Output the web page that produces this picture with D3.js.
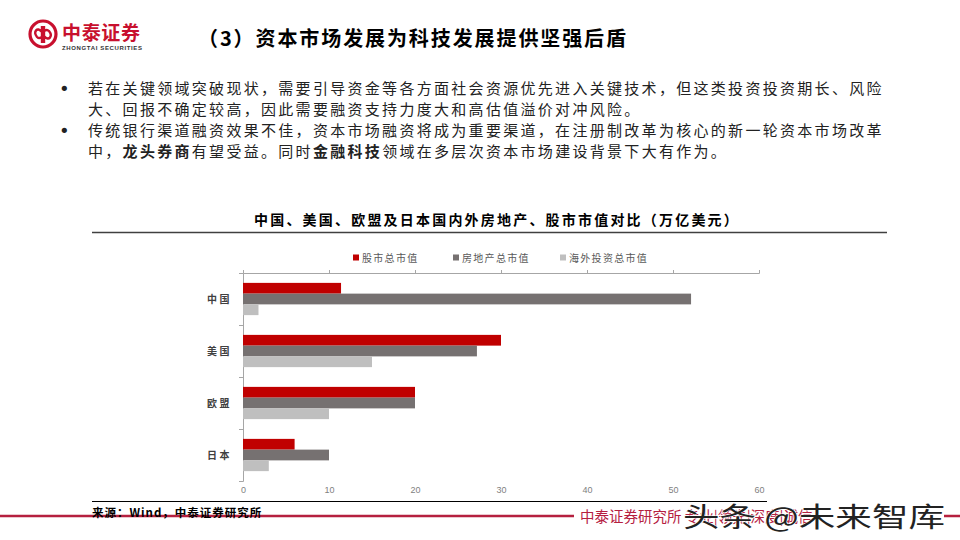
<!DOCTYPE html>
<html>
<head>
<meta charset="utf-8">
<script src="https://cdn.jsdelivr.net/npm/d3@7"></script>
<style>
  body { margin: 0; background: #fff; }
  svg { display: block; font-family: "Noto Sans CJK SC", "Noto Sans", sans-serif; }
</style>
</head>
<body>
<div id="chart"></div>
<script>
// chart data
var categories = ['中国', '美国', '欧盟', '日本'];
var seriesNames = ['股市总市值', '房地产总市值', '海外投资总市值'];
var stockValues = [11.4, 30, 20, 6];
var realEstateValues = [52.1, 27.2, 20, 10];
var overseasValues = [1.8, 15, 10, 3];
var xTicks = [0, 10, 20, 30, 40, 50, 60];
var colors = ['#c00000', '#767171', '#bfbfbf'];

var bullets = [
  [[{t: '若在关键领域突破现状，需要引导资金等各方面社会资源优先进入关键技术，但这类投资投资期长、风险'}],
   [{t: '大、回报不确定较高，因此需要融资支持力度大和高估值溢价对冲风险。'}]],
  [[{t: '传统银行渠道融资效果不佳，资本市场融资将成为重要渠道，在注册制改革为核心的新一轮资本市场改革'}],
   [{t: '中，'}, {t: '龙头券商', b: true}, {t: '有望受益。同时'}, {t: '金融科技', b: true}, {t: '领域在多层次资本市场建设背景下大有作为。'}]]
];

var width = 960;
var height = 540;

var svg = d3.select('#chart')
    .append('svg')
    .attr('width', width)
    .attr('height', height);

// Header / logo
var logo = svg.append('g').attr('transform', 'translate(43,34)');
logo.append('circle').attr('r', 13).attr('fill', 'none')
    .attr('stroke', '#c8102e').attr('stroke-width', 3.2);
logo.append('path')
    .attr('d', 'M-1,-8 L-1,9 M1,-8 L1,9 M-1,-2 C-6,-8 -10,-2 -6,3 C-3,6 0,2 0,0 C0,-2 3,-6 6,-3 C10,2 6,8 1,2')
    .attr('fill', 'none').attr('stroke', '#c8102e').attr('stroke-width', 2.4);
svg.append('text').attr('x', 62).attr('y', 40)
    .attr('font-size', 19).attr('font-weight', 'bold').attr('fill', '#c8102e')
    .attr('textLength', 78).text('中泰证券');
svg.append('text').attr('x', 62).attr('y', 50)
    .attr('font-size', 6).attr('font-family', 'Liberation Sans, Arial')
    .attr('font-weight', 'bold').attr('fill', '#333')
    .attr('textLength', 80).text('ZHONGTAI SECURITIES');

svg.append('text').attr('x', 198).attr('y', 46)
    .attr('font-size', 20).attr('font-weight', 'bold').attr('fill', '#000')
    .attr('textLength', 428).attr('lengthAdjust', 'spacing')
    .text('（3）资本市场发展为科技发展提供坚强后盾');

// Bullet text
var lineY = [94, 115, 136, 157];
var li = 0;
bullets.forEach(function(lines) {
  svg.append('text').attr('x', 59).attr('y', lineY[li] + 1)
      .attr('font-size', 18).attr('fill', '#222')
      .attr('font-family', 'DejaVu Sans').text('•');
  lines.forEach(function(parts) {
    var t = svg.append('text').attr('x', 88).attr('y', lineY[li])
        .attr('font-size', 15).attr('fill', '#222')
        .attr('letter-spacing', 2.3);
    parts.forEach(function(p) {
      t.append('tspan').attr('font-weight', p.b ? 'bold' : 'normal').text(p.t);
    });
    li++;
  });
});

// Chart title
svg.append('text').attr('x', 497).attr('y', 225)
    .attr('text-anchor', 'middle')
    .attr('font-size', 14).attr('font-weight', 'bold').attr('fill', '#000')
    .attr('letter-spacing', 2.2)
    .text('中国、美国、欧盟及日本国内外房地产、股市市值对比（万亿美元）');
svg.append('line').attr('x1', 92).attr('x2', 887).attr('y1', 232.5).attr('y2', 232.5)
    .attr('stroke', '#404040').attr('stroke-width', 1.5);

// Legend
var legendX = [353, 453, 560];
var legend = svg.append('g').selectAll('g')
    .data(seriesNames)
    .enter()
    .append('g')
    .attr('transform', function(d, i) {
      return 'translate(' + legendX[i] + ',258)';
    });
legend.append('rect').attr('x', 0).attr('y', -3.5).attr('width', 6).attr('height', 6)
    .attr('fill', function(d, i) { return colors[i]; });
legend.append('text').attr('x', 9).attr('y', 3.5)
    .attr('font-size', 10).attr('fill', '#595959').attr('letter-spacing', 1.3)
    .text(function(d) { return d; });

// Scales
var scaleX = d3.scaleLinear().domain([0, 60]).range([243, 759]);
var scaleY = d3.scaleBand().domain(categories).range([273, 481])
    .paddingInner(0.38).paddingOuter(0.19);
var scaleSub = d3.scaleBand().domain(d3.range(seriesNames.length))
    .range([0, scaleY.bandwidth()]);
var scaleIdx = d3.scaleLinear().domain([0, categories.length]).range([273, 481]);

// Axes
var axisTop = d3.axisTop(scaleX).tickValues(xTicks).tickSize(3).tickFormat('');
svg.append('g').attr('class', 'x-axis-top')
    .attr('transform', 'translate(0,273)')
    .call(axisTop);

var axisLeft = d3.axisLeft(scaleIdx).ticks(categories.length).tickSize(4).tickFormat('');
svg.append('g').attr('class', 'y-axis')
    .attr('transform', 'translate(243,0)')
    .call(axisLeft);

var axisBottom = d3.axisBottom(scaleX).tickValues(xTicks).tickSize(0).tickPadding(6);
svg.append('g').attr('class', 'x-axis-bottom')
    .attr('transform', 'translate(0,481)')
    .call(axisBottom)
    .call(function(g) { g.select('.domain').remove(); });

svg.selectAll('.x-axis-top path, .x-axis-top line, .y-axis path, .y-axis line')
    .attr('stroke', '#a6a6a6');
svg.selectAll('.x-axis-bottom text')
    .attr('font-size', 9).attr('fill', '#7f7f7f')
    .attr('font-family', 'Liberation Sans, Arial');

// Category labels
svg.append('g').selectAll('text')
    .data(categories)
    .enter()
    .append('text')
    .attr('x', 232)
    .attr('y', function(d) { return scaleY(d) + scaleY.bandwidth() / 2 + 4; })
    .attr('text-anchor', 'end')
    .attr('font-size', 10).attr('font-weight', 'bold').attr('fill', '#404040')
    .attr('letter-spacing', 2.5)
    .text(function(d) { return d; });

// Bars
var seriesValues = [stockValues, realEstateValues, overseasValues];
var rows = [];
categories.forEach(function(c, ci) {
  seriesValues.forEach(function(vals, si) {
    rows.push({cat: c, s: si, v: vals[ci]});
  });
});
svg.append('g').attr('id', 'bars')
    .selectAll('rect')
    .data(rows)
    .enter()
    .append('rect')
    .attr('x', scaleX(0))
    .attr('y', function(d) { return scaleY(d.cat) + scaleSub(d.s); })
    .attr('width', function(d) { return scaleX(d.v) - scaleX(0); })
    .attr('height', scaleSub.bandwidth())
    .attr('fill', function(d) { return colors[d.s]; });

// Footer
svg.append('line').attr('x1', 92).attr('x2', 767).attr('y1', 501.5).attr('y2', 501.5)
    .attr('stroke', '#000').attr('stroke-width', 1);
svg.append('line').attr('x1', 0).attr('x2', 960).attr('y1', 516).attr('y2', 516)
    .attr('stroke', '#b5203f').attr('stroke-width', 2.5);
svg.append('text').attr('x', 92).attr('y', 517)
    .attr('font-size', 11.5).attr('font-weight', 'bold').attr('fill', '#000')
    .attr('letter-spacing', 1)
    .text('来源：Wind，中泰证券研究所');
svg.append('rect').attr('x', 574).attr('y', 505).attr('width', 370).attr('height', 24)
    .attr('fill', '#fff');
svg.append('text').attr('x', 580).attr('y', 522)
    .attr('font-size', 14.5).attr('fill', '#b5203f')
    .text('中泰证券研究所 专业|领先|深度|诚信');
svg.append('text').attr('x', 683).attr('y', 527)
    .attr('font-size', 27).attr('fill', '#222')
    .attr('stroke', '#fff').attr('stroke-width', 1)
    .attr('paint-order', 'stroke')
    .attr('textLength', 262).attr('lengthAdjust', 'spacingAndGlyphs')
    .text('头条 @未来智库');
</script>
</body>
</html>
